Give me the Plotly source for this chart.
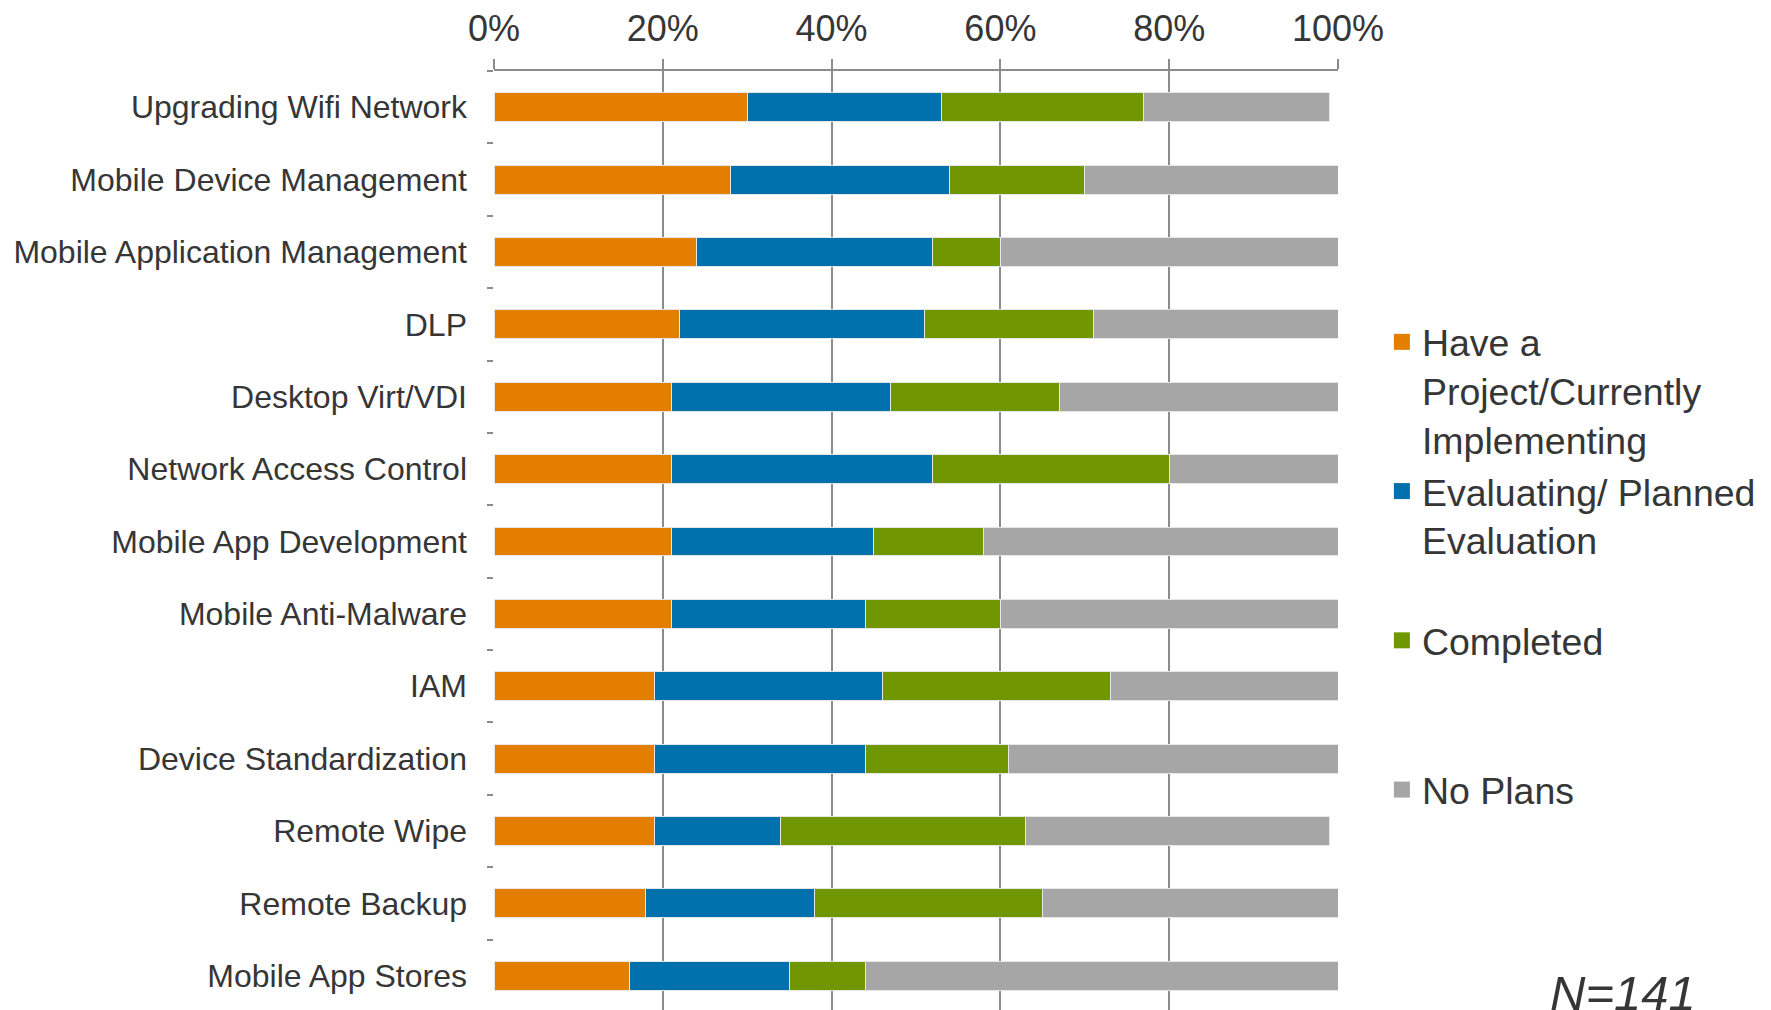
import plotly.graph_objects as go

categories = [
    "Upgrading Wifi Network", "Mobile Device Management", "Mobile Application Management",
    "DLP", "Desktop Virt/VDI", "Network Access Control", "Mobile App Development",
    "Mobile Anti-Malware", "IAM", "Device Standardization", "Remote Wipe",
    "Remote Backup", "Mobile App Stores",
]
have_project = [30, 28, 24, 22, 21, 21, 21, 21, 19, 19, 19, 18, 16]
evaluating = [23, 26, 28, 29, 26, 31, 24, 23, 27, 25, 15, 20, 19]
completed = [24, 16, 8, 20, 20, 28, 13, 16, 27, 17, 29, 27, 9]
no_plans = [22, 30, 40, 29, 33.2, 20, 42, 40, 27, 39, 36, 35.2, 56]

series_names = [
    "Have a<br>Project/Currently<br>Implementing",
    "Evaluating/ Planned<br>Evaluation<br> ",
    "Completed<br> <br> ",
    "No Plans<br> <br> ",
]
series_values = [have_project, evaluating, completed, no_plans]
colors = ["#E37E00", "#0071AD", "#709600", "#A6A6A6"]
x_ticks = [0, 20, 40, 60, 80, 100]
x_tick_labels = ["0%", "20%", "40%", "60%", "80%", "100%"]

FONT = "Liberation Sans, Arial, sans-serif"
TEXT = "#363636"

fig = go.Figure()
for name, vals, col in zip(series_names, series_values, colors):
    fig.add_trace(go.Bar(
        y=categories, x=vals, name=name, orientation="h", showlegend=False,
        marker=dict(color=col, line=dict(color="#e6e6e6", width=1)),
    ))
# legend entries (square swatches)
for name, col in zip(series_names, colors):
    fig.add_trace(go.Scatter(
        x=[None], y=[None], mode="markers", name=name, showlegend=True,
        marker=dict(symbol="square", size=17, color=col),
    ))

fig.update_layout(
    width=1771, height=1010,
    barmode="stack", bargap=0.6,
    paper_bgcolor="white", plot_bgcolor="white",
    margin=dict(l=486, r=441, t=63, b=6, autoexpand=False),
    font=dict(family=FONT, color=TEXT),
    showlegend=True,
    legend=dict(
        x=1.052, xanchor="left", y=0.745, yanchor="top",
        font=dict(size=37.5, color=TEXT, family=FONT),
        valign="top", tracegroupgap=0, itemsizing="trace",
        traceorder="normal",
        bgcolor="rgba(0,0,0,0)",
    ),
    xaxis=dict(
        side="top", range=[0, 100], tickvals=x_ticks, ticktext=x_tick_labels,
        showgrid=True, gridcolor="#8C8C8C", gridwidth=1.5,
        showline=True, linecolor="#8C8C8C", linewidth=1.5,
        ticks="outside", ticklen=10, tickcolor="#8C8C8C", tickwidth=1.5,
        ticklabelstandoff=4, automargin=False,
        tickfont=dict(size=36, color=TEXT, family=FONT),
        zeroline=False, fixedrange=True,
    ),
    yaxis=dict(
        autorange="reversed", tickson="boundaries",
        ticks="outside", ticklen=6, tickcolor="#8C8C8C", tickwidth=1.5,
        showline=False, showgrid=False, automargin=False,
        ticklabelstandoff=26,
        tickfont=dict(size=32, color=TEXT, family=FONT),
    ),
    annotations=[dict(
        text="<i>N=141</i>", xref="paper", yref="paper",
        x=1.4265, y=0.02, xanchor="right", yanchor="middle",
        showarrow=False, font=dict(size=49, color=TEXT, family=FONT),
    )],
)

fig.write_html("out.html")
